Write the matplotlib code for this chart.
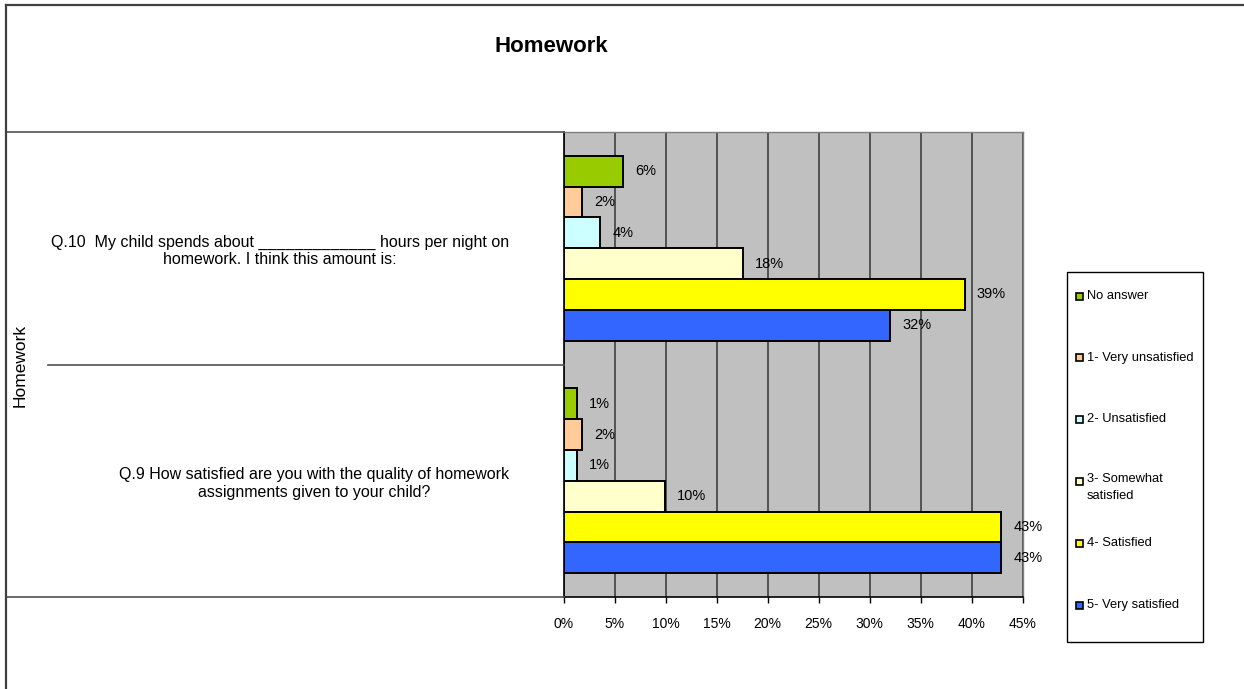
import matplotlib
matplotlib.use('Agg')
import matplotlib.pyplot as plt
from matplotlib.patches import Rectangle
from matplotlib.lines import Line2D
import numpy as np

plt.rcParams['font.family'] = ['Liberation Sans', 'DejaVu Sans']

# ---- data ----
title = "Homework"
group_label = "Homework"
categories = [
    "Q.9 How satisfied are you with the quality of homework\nassignments given to your child?",
    "Q.10  My child spends about _____________ hours per night on\nhomework. I think this amount is:",
]
series_names = ["No answer", "1- Very unsatisfied", "2- Unsatisfied",
                "3- Somewhat\nsatisfied", "4- Satisfied", "5- Very satisfied"]
q9_values = [1.3, 1.8, 1.3, 9.9, 42.9, 42.9]
q10_values = [5.8, 1.8, 3.6, 17.6, 39.3, 32.0]
series_colors = ["#99CC00", "#FFCC99", "#CCFFFF", "#FFFFCC", "#FFFF00", "#3366FF"]
x_ticks = [0, 5, 10, 15, 20, 25, 30, 35, 40, 45]
x_tick_labels = [f"{t}%" for t in x_ticks]

# ---- layout helpers (pixel -> figure fraction) ----
W, H = 1244, 689
fig = plt.figure(figsize=(W / 100, H / 100), dpi=100)
fig.patch.set_facecolor('white')


def fx(x):
    return x / W


def fy(y):
    return 1 - y / H


L, R, T, B = 563.7, 1022.7, 132, 597
ax = fig.add_axes([fx(L), fy(B), (R - L) / W, (B - T) / H])
ax.set_facecolor('#C0C0C0')
ax.set_xlim(0, 45)
ax.set_ylim(-0.5, 1.5)

h = 0.794 / 6
ypos = np.arange(len(categories))
for i, (name, color) in enumerate(zip(series_names, series_colors)):
    vals = [q9_values[i], q10_values[i]]
    ys = ypos + (2.5 - i) * h
    bars = ax.barh(ys, vals, height=h, color=color, edgecolor='black',
                   linewidth=1.4, zorder=3)
    for b, v in zip(bars, vals):
        ax.annotate(f"{round(v)}%", xy=(v, b.get_y() + h / 2), xytext=(12, 0),
                    textcoords='offset pixels', ha='left', va='center',
                    fontsize=10.5, zorder=4)

ax.set_axisbelow(True)
ax.set_xticks(x_ticks)
ax.set_xticklabels(x_tick_labels, fontsize=10)
ax.xaxis.grid(True, color='#404040', linewidth=1.2)
ax.tick_params(axis='x', direction='out', length=4.5, width=1, pad=10, color='black')

ax.set_yticks(ypos)
ax.set_yticklabels(categories, fontsize=11.5)
for lbl in ax.get_yticklabels():
    lbl.set_multialignment('center')
ax.tick_params(axis='y', length=0, pad=39.4)

for s in ['left', 'bottom']:
    ax.spines[s].set_color('black')
    ax.spines[s].set_linewidth(1.2)
for s in ['top', 'right']:
    ax.spines[s].set_color('#808080')
    ax.spines[s].set_linewidth(1.0)

# category separator lines
line_col = '#505050'
for (x0, y0) in [(6, 132), (48, 365), (6, 597)]:
    fig.add_artist(Line2D([fx(x0), fx(L)], [fy(y0), fy(y0)], color=line_col, lw=1.2))

# outer border (left and top visible)
fig.add_artist(Line2D([fx(6), fx(6)], [fy(5), 0], color='#404040', lw=1.6))
fig.add_artist(Line2D([fx(6), 1], [fy(5), fy(5)], color='#404040', lw=1.6))

# titles
fig.text(fx(551.5), fy(47), title, fontsize=16, fontweight='bold', ha='center', va='center')
fig.text(fx(20.5), fy(365), group_label, rotation=90, fontsize=12.5, ha='center', va='center')

# legend (Excel-like box)
fig.add_artist(Rectangle((fx(1066.7), fy(641.7)), (1203 - 1066.7) / W, (641.7 - 272) / H,
                         transform=fig.transFigure, facecolor='white', edgecolor='black', lw=1.0))
leg_y = [296, 357.7, 419.3, 481, 543.3, 605]
for name, color, yy in zip(series_names, series_colors, leg_y):
    fig.add_artist(Rectangle((fx(1076), fy(yy + 3.5)), 7 / W, 7 / H, transform=fig.transFigure,
                             facecolor=color, edgecolor='black', lw=1.2))
    if '\n' in name:
        fig.text(fx(1087), fy(yy - 7.5), name, fontsize=9.3, ha='left', va='top', linespacing=1.55)
    else:
        fig.text(fx(1087), fy(yy), name, fontsize=9.3, ha='left', va='center')

fig.savefig('out.png', dpi=100)
